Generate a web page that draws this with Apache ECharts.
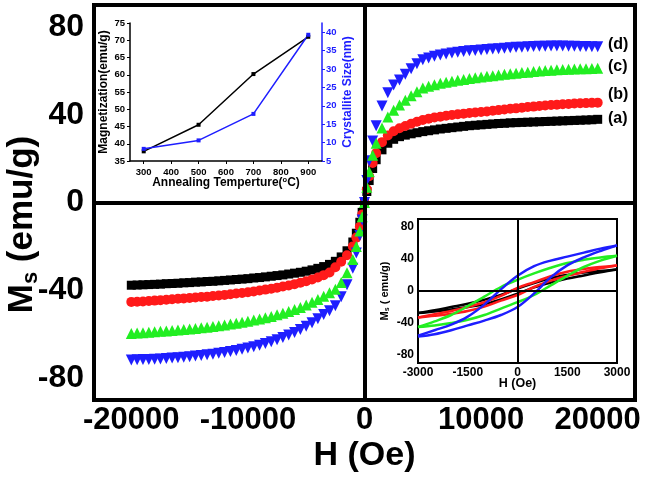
<!DOCTYPE html>
<html><head><meta charset="utf-8">
<script src="https://cdn.jsdelivr.net/npm/echarts@6/dist/echarts.min.js"></script>
<style>html,body{margin:0;padding:0;background:#fff}#c{width:651px;height:478px}</style>
</head><body><div id="c"></div>
<script>
// ---- main M-H curves ----
const H_MAIN = [-20000,-19500,-19000,-18500,-18000,-17500,-17000,-16500,-16000,-15500,-15000,-14500,-14000,-13500,-13000,-12500,-12000,-11500,-11000,-10500,-10000,-9500,-9000,-8500,-8000,-7500,-7000,-6500,-6000,-5500,-5000,-4500,-4000,-3500,-3000,-2500,-2000,-1500,-1000,-700,-400,-200,0,200,400,700,1000,1500,2000,2500,3000,3500,4000,4500,5000,5500,6000,6500,7000,7500,8000,8500,9000,9500,10000,10500,11000,11500,12000,12500,13000,13500,14000,14500,15000,15500,16000,16500,17000,17500,18000,18500,19000,19500,20000];
const MS_A = [-37.7,-37.6,-37.5,-37.4,-37.3,-37.2,-37.0,-36.9,-36.8,-36.6,-36.5,-36.3,-36.2,-36.0,-35.9,-35.7,-35.5,-35.3,-35.1,-34.9,-34.7,-34.4,-34.2,-33.9,-33.6,-33.3,-33.0,-32.6,-32.2,-31.8,-31.3,-30.7,-30.0,-29.2,-28.2,-26.8,-24.8,-22,-18,-14,-9,-4.5,0,5,10,15.5,19.5,24,27,28.8,30.0,30.7,31.3,31.8,32.3,32.7,33.1,33.5,33.8,34.1,34.4,34.7,35.0,35.2,35.4,35.6,35.8,36.0,36.1,36.3,36.4,36.5,36.6,36.7,36.8,36.9,37.0,37.1,37.2,37.3,37.4,37.5,37.6,37.7,37.9];
const MS_B = [-45.3,-45.2,-45.1,-44.9,-44.7,-44.5,-44.3,-44.1,-43.9,-43.7,-43.5,-43.3,-43.1,-42.9,-42.6,-42.4,-42.1,-41.8,-41.5,-41.2,-40.9,-40.5,-40.1,-39.7,-39.3,-38.8,-38.3,-37.8,-37.2,-36.6,-35.9,-35.1,-34.2,-33.1,-31.9,-29.5,-27,-24,-20,-16,-11,-5.5,0,6,12,18,22.5,27.5,30.5,32.5,33.8,34.9,35.9,36.8,37.6,38.2,38.7,39.1,39.5,39.9,40.2,40.5,40.8,41.0,41.2,41.5,41.8,42.1,42.4,42.7,42.9,43.2,43.5,43.7,44.0,44.2,44.4,44.6,44.8,44.9,45.1,45.2,45.3,45.4,45.5];
const MS_C = [-59.7,-59.5,-59.3,-59.1,-58.9,-58.7,-58.5,-58.3,-58.1,-57.9,-57.7,-57.4,-57.1,-56.8,-56.5,-56.2,-55.8,-55.4,-55.0,-54.6,-54.1,-53.6,-53.1,-52.5,-51.9,-51.2,-50.5,-49.7,-48.8,-47.8,-46.7,-45.5,-44.2,-42.7,-41.1,-39.5,-36.5,-32,-26,-20,-13,-6.5,0,7,14,21.5,27,34,39,42,44.4,46.6,48.6,50.5,52.2,53.0,53.7,54.3,54.8,55.3,55.7,56.1,56.5,56.9,57.2,57.5,57.8,58.1,58.4,58.7,58.9,59.2,59.4,59.7,59.9,60.1,60.3,60.5,60.6,60.7,60.8,60.9,61.0,61.1,61.2];
const MS_D = [-71.8,-71.7,-71.6,-71.5,-71.4,-71.3,-71.1,-70.9,-70.7,-70.5,-70.3,-70.0,-69.7,-69.4,-69.1,-68.7,-68.3,-67.9,-67.4,-66.9,-66.3,-65.7,-65.0,-64.2,-63.4,-62.5,-61.5,-60.4,-59.2,-57.9,-56.4,-54.8,-53.0,-51.0,-49.3,-47,-43,-37.5,-30,-23,-15,-8,0,10,19,28,35,44,50,53.5,55.8,58.5,61.0,63.2,65.0,65.9,66.6,67.2,67.7,68.1,68.5,68.8,69.1,69.3,69.5,69.7,69.9,70.1,70.3,70.5,70.7,70.8,71.0,71.1,71.2,71.2,71.3,71.3,71.3,71.2,71.2,71.1,71.1,71.0,71.0];
const CURVE_LABELS = ['(a)','(b)','(c)','(d)'];

// ---- top-left inset ----
const TEMP = [300,500,700,900];
const MAG = [37.8,45.5,60.2,71.0];
const CRYST = [8.3,10.6,17.8,39.3];

// ---- bottom-right inset: hysteresis loops ----
const H_UP = [3000,2500,2000,1500,1000,500,0,-500,-1000,-1500,-2000,-2500,-3000];
const H_DN = [-3000,-2500,-2000,-1500,-1000,-500,0,500,1000,1500,2000,2500,3000];
const LOOP_A_UP = [27,25,23,20,16,10,3,-5,-11,-16,-20,-24,-27.5];
const LOOP_A_DN = [-27.5,-25.5,-23,-20,-16.5,-10.5,-3.5,4.5,10.5,15.5,19.5,23.5,27];
const LOOP_B_UP = [32,30,27.5,24,18.5,11,4,-6,-14,-20,-25,-29,-33];
const LOOP_B_DN = [-33,-31,-28.5,-25,-19.5,-12,-5,5,13,19,24,28.5,32];
const LOOP_C_UP = [44,42,39,35,29,22,14,5,-7,-19,-30,-38,-45];
const LOOP_C_DN = [-45,-43,-40,-36,-30,-22,-14,-5,7,19,30,38,44];
const LOOP_D_UP = [57,53,48,43,38,31,19,2,-17,-32,-42,-49,-56];
const LOOP_D_DN = [-57,-54,-49,-43,-37,-30,-20,-3,17,32,42,50,57];

const FONT = '"Liberation Sans", Arial, sans-serif';
const C_A = '#000000', C_B = '#ff1a1a', C_C = '#22ee22', C_D = '#1e1eff';
const pairs = (xs, ys) => xs.map((x, i) => [x, ys[i]]);

const chart = echarts.init(document.getElementById('c'));

function zeroLines(xi, yi, w) {
  return {
    type: 'line', xAxisIndex: xi, yAxisIndex: yi, data: [], z: 1,
    markLine: {
      silent: true, symbol: ['none', 'none'], animation: false,
      label: { show: false },
      lineStyle: { color: '#000', width: w, type: 'solid' },
      data: [{ xAxis: 0 }, { yAxis: 0 }]
    }
  };
}
function scat(ys, sym, size, color, rot) {
  return {
    type: 'scatter', xAxisIndex: 0, yAxisIndex: 0, data: pairs(H_MAIN, ys),
    symbol: sym, symbolSize: size, symbolRotate: rot || 0, z: 3,
    itemStyle: { color: color, opacity: 1 }
  };
}
function loop(hs, ys, color) {
  return {
    type: 'line', xAxisIndex: 2, yAxisIndex: 3, data: pairs(hs, ys), smooth: 0.35,
    showSymbol: false, lineStyle: { color: color, width: 2.5 }, z: 3
  };
}

const boldTxt = (size, color) => ({ fontFamily: FONT, fontWeight: 'bold', fontSize: size, color: color || '#000' });

chart.setOption({
  animation: false,
  backgroundColor: '#fff',
  grid: [
    { left: 94, right: 16, top: 5, bottom: 78, show: true, borderColor: '#000', borderWidth: 4, backgroundColor: '#fff', containLabel: false, outerBoundsMode: 'none' },
    { left: 130, right: 329, top: 23, bottom: 317, show: false, containLabel: false, outerBoundsMode: 'none' },
    { left: 418, right: 34, top: 219, bottom: 115, show: true, borderColor: '#000', borderWidth: 2, backgroundColor: '#fff', containLabel: false, outerBoundsMode: 'none' }
  ],
  xAxis: [
    { gridIndex: 0, type: 'value', min: -23200, max: 23200, interval: 400,
      axisLine: { show: false }, axisTick: { show: false }, splitLine: { show: false },
      axisLabel: Object.assign(boldTxt(31), { margin: 5, formatter: v => (v % 10000 === 0 ? String(v) : '') }),
      name: 'H (Oe)', nameLocation: 'middle', nameGap: 39, nameMoveOverlap: false, nameTextStyle: boldTxt(34) },
    { gridIndex: 1, type: 'value', min: 250, max: 950, splitNumber: 7,
      axisLine: { show: true, lineStyle: { color: '#000', width: 1.5 } },
      axisTick: { show: true, length: 3, lineStyle: { color: '#000', width: 1 } },
      splitLine: { show: false },
      axisLabel: Object.assign(boldTxt(9.5), { margin: 6, showMinLabel: false, showMaxLabel: false }),
      name: '{a|Annealing Temperture(}{o|o}{a|C)}', nameLocation: 'middle', nameGap: 15, nameMoveOverlap: false,
      nameTextStyle: { rich: { a: boldTxt(12), o: Object.assign(boldTxt(7.5), { verticalAlign: 'top', padding: [0, 0, 6, 0] }) } } },
    { gridIndex: 2, type: 'value', min: -3000, max: 3000, interval: 1500,
      axisLine: { show: false }, axisTick: { show: false }, splitLine: { show: false },
      axisLabel: Object.assign(boldTxt(12), { margin: 4, formatter: v => String(v) }),
      name: 'H (Oe)', nameLocation: 'middle', nameGap: 14, nameMoveOverlap: false, nameTextStyle: boldTxt(12.5) }
  ],
  yAxis: [
    { gridIndex: 0, type: 'value', min: -90, max: 90, interval: 10,
      axisLine: { show: false }, axisTick: { show: false }, splitLine: { show: false },
      axisLabel: Object.assign(boldTxt(32), { margin: 10, formatter: v => (v % 40 === 0 ? String(v) : '') }),
      name: '{m|M}{s|s}{m| (emu/g)}', nameLocation: 'middle', nameGap: 52, nameMoveOverlap: false,
      nameTextStyle: { padding: [0, 44, 0, 0], rich: { m: boldTxt(35), s: Object.assign(boldTxt(22), { verticalAlign: 'bottom', padding: [18, 0, 0, 0] }) } } },
    { gridIndex: 1, type: 'value', min: 35, max: 75, interval: 5,
      axisLine: { show: true, lineStyle: { color: '#000', width: 1.5 } },
      axisTick: { show: true, length: 3, lineStyle: { color: '#000', width: 1 } },
      splitLine: { show: false },
      axisLabel: Object.assign(boldTxt(9.5), { margin: 5 }),
      name: 'Magnetization(emu/g)', nameLocation: 'middle', nameGap: 20, nameMoveOverlap: false, nameTextStyle: boldTxt(12) },
    { gridIndex: 1, type: 'value', position: 'right', min: 5, max: 42.5, interval: 5,
      axisLine: { show: true, lineStyle: { color: C_D, width: 1.5 } },
      axisTick: { show: true, length: 3, lineStyle: { color: C_D, width: 1 } },
      splitLine: { show: false },
      axisLabel: Object.assign(boldTxt(9.5, C_D), { margin: 4, showMaxLabel: false }),
      name: 'Crystallite Size(nm)', nameLocation: 'middle', nameGap: 20, nameMoveOverlap: false, nameTextStyle: boldTxt(12, C_D) },
    { gridIndex: 2, type: 'value', min: -90, max: 90, interval: 10,
      axisLine: { show: false }, axisTick: { show: false }, splitLine: { show: false },
      axisLabel: Object.assign(boldTxt(12), { margin: 4, formatter: v => (v % 40 === 0 ? String(v) : '') }),
      name: '{m|M}{s|s}{m| ( emu/g)}', nameLocation: 'middle', nameGap: 27, nameMoveOverlap: false,
      nameTextStyle: { rich: { m: boldTxt(11), s: Object.assign(boldTxt(7), { verticalAlign: 'bottom', padding: [5, 0, 0, 0] }) } } }
  ],
  series: [
    zeroLines(0, 0, 4),
    scat(MS_A, 'rect', 9, C_A),
    scat(MS_B, 'circle', 10, C_B),
    scat(MS_D, 'triangle', 11, C_D, 180),
    scat(MS_C, 'triangle', 11, C_C),
    { type: 'line', xAxisIndex: 1, yAxisIndex: 1, data: pairs(TEMP, MAG), symbol: 'rect', symbolSize: 4,
      lineStyle: { color: '#000', width: 1.5 }, itemStyle: { color: '#000' } },
    { type: 'line', xAxisIndex: 1, yAxisIndex: 2, data: pairs(TEMP, CRYST), symbol: 'rect', symbolSize: 4,
      lineStyle: { color: C_D, width: 1.5 }, itemStyle: { color: C_D } },
    zeroLines(2, 3, 2),
    loop(H_UP, LOOP_A_UP, C_A), loop(H_DN, LOOP_A_DN, C_A),
    loop(H_UP, LOOP_B_UP, C_B), loop(H_DN, LOOP_B_DN, C_B),
    loop(H_UP, LOOP_C_UP, C_C), loop(H_DN, LOOP_C_DN, C_C),
    loop(H_UP, LOOP_D_UP, C_D), loop(H_DN, LOOP_D_DN, C_D)
  ],
  graphic: [
    { type: 'text', left: 608, top: 37, style: { text: CURVE_LABELS[3], font: 'bold 16px ' + FONT, fill: '#000' } },
    { type: 'text', left: 608, top: 59, style: { text: CURVE_LABELS[2], font: 'bold 16px ' + FONT, fill: '#000' } },
    { type: 'text', left: 608, top: 87, style: { text: CURVE_LABELS[1], font: 'bold 16px ' + FONT, fill: '#000' } },
    { type: 'text', left: 608, top: 111, style: { text: CURVE_LABELS[0], font: 'bold 16px ' + FONT, fill: '#000' } }
  ]
});
</script></body></html>
